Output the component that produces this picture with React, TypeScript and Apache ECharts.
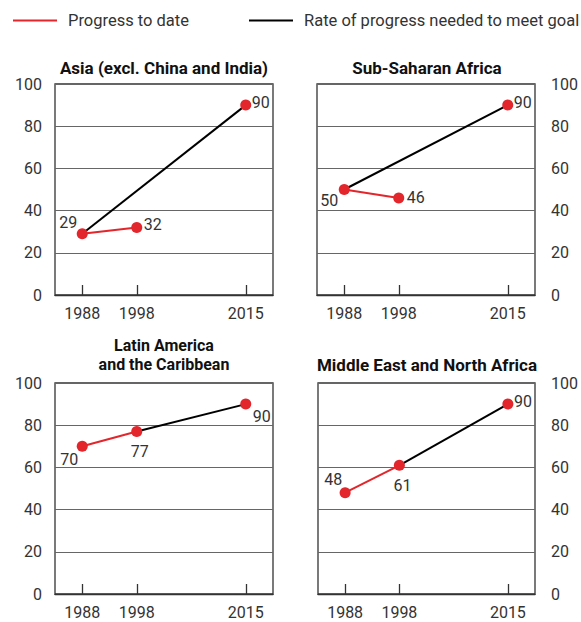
import React, { useEffect, useRef } from 'react';
import * as echarts from 'echarts';

// ---- Data ----
const years = ['1988', '1998', '', '2015'];
const panelTitles = [
  'Asia (excl. China and India)',
  'Sub-Saharan Africa',
  'Latin America\nand the Caribbean',
  'Middle East and North Africa',
];
const seriesNames = ['Progress to date', 'Rate of progress needed to meet goal'];

const asiaProgress = [29, 32, null, 90];
const asiaNeeded = [29, null, null, 90];
const ssaProgress = [50, 46, null, 90];
const ssaNeeded = [50, null, null, 90];
const latamProgress = [70, 77, null, 90];
const latamNeeded = [null, 77, null, 90];
const menaProgress = [48, 61, null, 90];
const menaNeeded = [null, 61, null, 90];

// ---- Layout / style ----
const FONT = 'Roboto, "Liberation Sans", Arial, sans-serif';
const RED = '#e2262c';
const INK = '#333';

const panels = [
  { progress: asiaProgress, needed: asiaNeeded, grid: { left: 55, top: 84, width: 218, height: 211 }, side: 'left',
    title: { x: 164, y: 59 }, offsets: [[-14, -11], [16, -3], [0, 0], [15, -3]] },
  { progress: ssaProgress, needed: ssaNeeded, grid: { left: 317, top: 84, width: 218, height: 211 }, side: 'right',
    title: { x: 427, y: 59 }, offsets: [[-15, 11], [17, 0], [0, 0], [15, -3]] },
  { progress: latamProgress, needed: latamNeeded, grid: { left: 55, top: 383, width: 218, height: 211 }, side: 'left',
    title: { x: 164, y: 336 }, offsets: [[-13, 13], [3, 20], [0, 0], [16, 12]] },
  { progress: menaProgress, needed: menaNeeded, grid: { left: 318, top: 383, width: 217, height: 211 }, side: 'right',
    title: { x: 427, y: 356 }, offsets: [[-12, -13], [3, 20], [0, 0], [15, -3]] },
];

export default function App() {
  const ref = useRef<HTMLDivElement>(null);
  useEffect(() => {
    if (!ref.current) return;
    const chart = echarts.init(ref.current, null, { renderer: 'svg' });

    const grids = panels.map((p) => ({ ...p.grid, show: true, borderColor: INK, borderWidth: 1.3, backgroundColor: 'transparent' }));
    const xAxes = panels.map((_, i) => ({
      type: 'category',
      gridIndex: i,
      data: years,
      boundaryGap: true,
      axisLine: { show: true, lineStyle: { color: INK, width: 1.3 } },
      axisTick: { show: true, inside: true, length: 10, alignWithLabel: true, interval: (_i: number, v: string) => v !== '', lineStyle: { color: INK, width: 1.3 } },
      axisLabel: { interval: 0, margin: 10, fontSize: 16, color: INK, fontFamily: FONT },
      splitLine: { show: false },
    }));
    const yAxes = panels.map((p, i) => ({
      type: 'value',
      gridIndex: i,
      min: 0,
      max: 100,
      interval: 20,
      position: p.side,
      axisLine: { show: false },
      axisTick: { show: false },
      axisLabel: { margin: p.side === 'left' ? 13 : 16, fontSize: 16, color: INK, fontFamily: FONT, padding: [0, 0, 12, 0] },
      splitLine: { show: true, lineStyle: { color: '#666', width: 1 } },
    }));

    const series: any[] = [];
    panels.forEach((p, i) => {
      series.push({
        name: seriesNames[1],
        type: 'line',
        xAxisIndex: i,
        yAxisIndex: i,
        data: p.needed,
        connectNulls: true,
        showSymbol: false,
        symbol: 'none',
        itemStyle: { color: '#000' },
        lineStyle: { color: '#000', width: 2 },
        z: 2,
        silent: true,
      });
      series.push({
        name: seriesNames[0],
        type: 'line',
        xAxisIndex: i,
        yAxisIndex: i,
        connectNulls: false,
        symbol: 'circle',
        symbolSize: 11,
        showAllSymbol: true,
        itemStyle: { color: RED },
        lineStyle: { color: RED, width: 2 },
        z: 3,
        data: p.progress.map((v, k) => ({
          value: v,
          label: {
            show: v !== null,
            position: 'inside',
            offset: p.offsets[k],
            color: INK,
            fontSize: 16,
            fontFamily: FONT,
            formatter: '{c}',
          },
        })),
      });
    });

    const titles = panels.map((p, i) => ({
      text: panelTitles[i],
      left: p.title.x,
      top: p.title.y,
      textAlign: 'center',
      padding: 0,
      textStyle: { fontSize: i === 2 ? 16 : 17, fontWeight: 'bold', color: '#111', fontFamily: FONT, lineHeight: i === 2 ? 19 : 17 },
    }));

    chart.setOption({
      animation: false,
      backgroundColor: '#fff',
      title: titles,
      legend: {
        left: 13,
        top: 12,
        padding: 0,
        icon: 'rect',
        itemWidth: 44,
        itemHeight: 2,
        itemGap: 60,
        data: [
          { name: seriesNames[0], itemStyle: { color: RED } },
          { name: seriesNames[1], itemStyle: { color: '#000' } },
        ],
        textStyle: { fontSize: 16.5, color: INK, fontFamily: FONT, padding: [0, 0, 0, 6] },
        selectedMode: false,
      },
      grid: grids,
      xAxis: xAxes,
      yAxis: yAxes,
      series,
    });
    return () => chart.dispose();
  }, []);
  return <div ref={ref} style={{ position: 'absolute', left: 0, top: 0, width: 581, height: 622 }} />;
}
